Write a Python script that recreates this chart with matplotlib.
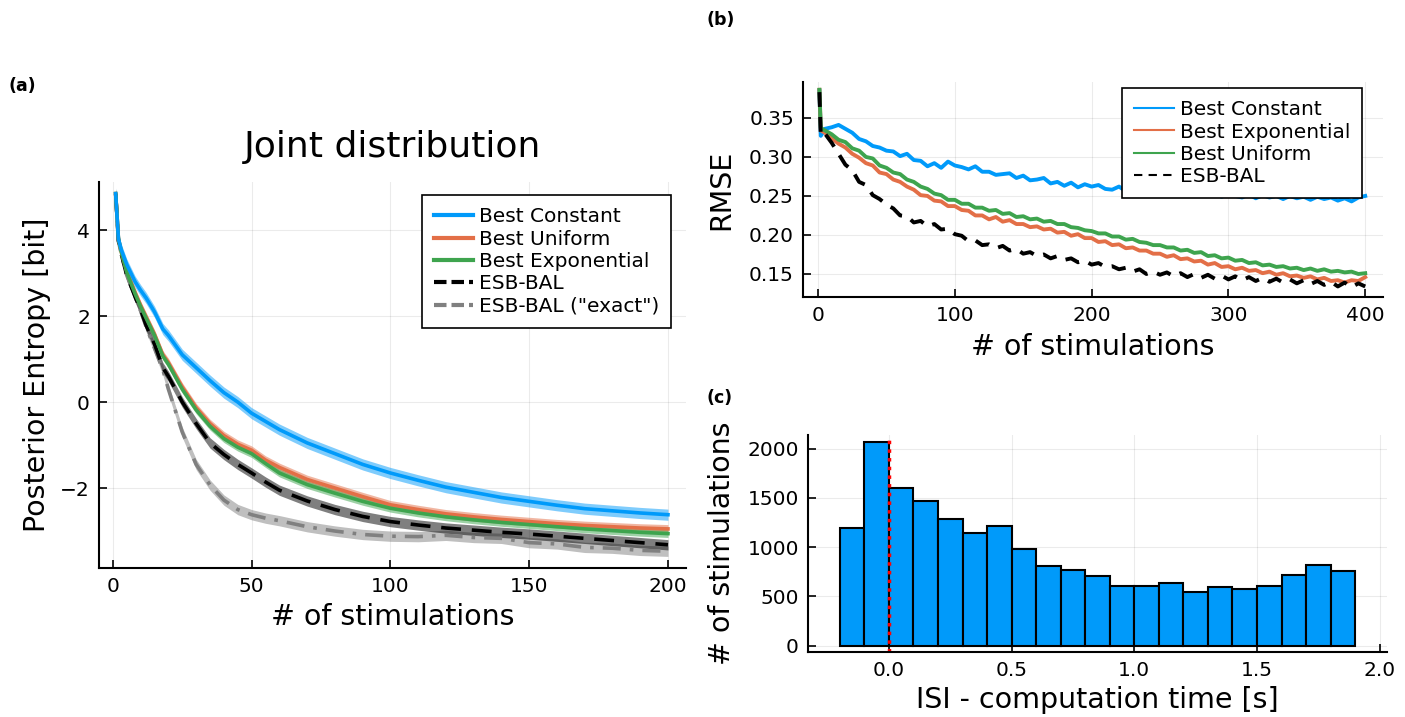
import numpy as np
import matplotlib
matplotlib.use("Agg")
import matplotlib.pyplot as plt
from matplotlib.lines import Line2D

# ---------------- Panel (a): posterior entropy ----------------
a_steps = [1, 2, 3, 5, 8, 10, 12, 15, 18, 20, 25, 30, 35, 40, 45, 50, 55, 60,
           70, 80, 90, 100, 110, 120, 130, 140, 150, 160, 170, 180, 190, 200]
a_constant = [4.85, 3.80, 3.55, 3.20, 2.80, 2.60, 2.42, 2.10, 1.70, 1.55, 1.10, 0.80,
              0.50, 0.22, 0.00, -0.26, -0.45, -0.64, -0.95, -1.20, -1.45, -1.65,
              -1.82, -1.98, -2.10, -2.22, -2.31, -2.40, -2.48, -2.53, -2.58, -2.62]
a_uniform = [4.85, 3.80, 3.50, 3.05, 2.55, 2.25, 1.98, 1.58, 1.10, 0.92, 0.35, -0.13,
             -0.50, -0.78, -0.98, -1.12, -1.35, -1.52, -1.80, -2.00, -2.20, -2.39,
             -2.50, -2.60, -2.67, -2.73, -2.78, -2.83, -2.87, -2.90, -2.93, -2.95]
a_exponential = [4.85, 3.80, 3.50, 3.02, 2.52, 2.22, 1.95, 1.55, 1.07, 0.88, 0.30, -0.18,
                 -0.56, -0.85, -1.05, -1.20, -1.43, -1.65, -1.92, -2.12, -2.31, -2.47,
                 -2.58, -2.67, -2.74, -2.80, -2.85, -2.90, -2.95, -2.99, -3.03, -3.06]
a_esbbal = [4.85, 3.75, 3.45, 2.95, 2.45, 2.15, 1.78, 1.35, 0.80, 0.60, 0.00, -0.50,
            -0.95, -1.22, -1.45, -1.65, -1.86, -2.05, -2.30, -2.50, -2.66, -2.78,
            -2.86, -2.93, -2.98, -3.03, -3.07, -3.12, -3.17, -3.22, -3.27, -3.32]
a_exact = [4.85, 3.75, 3.45, 2.95, 2.45, 2.12, 1.75, 1.25, 0.75, 0.30, -0.70, -1.45,
           -1.93, -2.28, -2.50, -2.62, -2.70, -2.76, -2.90, -3.00, -3.08, -3.12,
           -3.13, -3.10, -3.15, -3.17, -3.27, -3.30, -3.38, -3.40, -3.45, -3.47]
a_band = [0.13, 0.10, 0.09, 0.12, 0.12]
a_labels = ["Best Constant", "Best Uniform", "Best Exponential", "ESB-BAL", 'ESB-BAL ("exact")']

# ---------------- Panel (b): RMSE ----------------
b_steps = [1, 2] + list(range(5, 401, 5))
b_constant = [0.385, 0.327,
    0.336, 0.338, 0.341, 0.336, 0.331, 0.323, 0.320, 0.314, 0.312, 0.308,
    0.307, 0.301, 0.304, 0.296, 0.295, 0.288, 0.292, 0.286, 0.294, 0.289,
    0.287, 0.284, 0.288, 0.281, 0.281, 0.277, 0.278, 0.279, 0.273, 0.276,
    0.270, 0.271, 0.273, 0.266, 0.268, 0.263, 0.267, 0.261, 0.265, 0.262,
    0.264, 0.259, 0.258, 0.262, 0.256, 0.259, 0.255, 0.258, 0.254, 0.256,
    0.253, 0.256, 0.252, 0.254, 0.251, 0.254, 0.250, 0.253, 0.249, 0.252,
    0.250, 0.248, 0.252, 0.247, 0.251, 0.248, 0.250, 0.246, 0.250, 0.247,
    0.249, 0.245, 0.249, 0.246, 0.248, 0.244, 0.247, 0.243, 0.248, 0.250]
b_exponential = [0.386, 0.334,
    0.331, 0.324, 0.317, 0.312, 0.304, 0.299, 0.292, 0.289, 0.280, 0.278,
    0.271, 0.268, 0.262, 0.258, 0.251, 0.250, 0.244, 0.243, 0.237, 0.237,
    0.232, 0.231, 0.225, 0.225, 0.220, 0.223, 0.217, 0.219, 0.214, 0.214,
    0.210, 0.211, 0.207, 0.208, 0.203, 0.204, 0.199, 0.201, 0.196, 0.196,
    0.191, 0.192, 0.187, 0.188, 0.183, 0.184, 0.180, 0.180, 0.176, 0.176,
    0.172, 0.174, 0.169, 0.170, 0.166, 0.167, 0.162, 0.164, 0.159, 0.160,
    0.156, 0.158, 0.154, 0.155, 0.151, 0.153, 0.149, 0.151, 0.147, 0.148,
    0.145, 0.147, 0.143, 0.145, 0.141, 0.142, 0.139, 0.142, 0.141, 0.146]
b_uniform = [0.386, 0.337,
    0.334, 0.329, 0.322, 0.319, 0.311, 0.308, 0.300, 0.298, 0.289, 0.286,
    0.280, 0.278, 0.271, 0.268, 0.262, 0.259, 0.253, 0.251, 0.245, 0.245,
    0.240, 0.240, 0.235, 0.235, 0.231, 0.232, 0.227, 0.228, 0.223, 0.224,
    0.220, 0.221, 0.217, 0.218, 0.214, 0.214, 0.210, 0.209, 0.206, 0.205,
    0.202, 0.202, 0.198, 0.198, 0.194, 0.195, 0.191, 0.190, 0.187, 0.187,
    0.184, 0.184, 0.180, 0.181, 0.177, 0.178, 0.173, 0.174, 0.170, 0.171,
    0.167, 0.168, 0.164, 0.165, 0.161, 0.162, 0.159, 0.160, 0.157, 0.158,
    0.155, 0.157, 0.154, 0.156, 0.153, 0.154, 0.152, 0.153, 0.150, 0.151]
b_esbbal = [0.383, 0.327,
    0.330, 0.318, 0.304, 0.290, 0.283, 0.268, 0.264, 0.251, 0.246, 0.239,
    0.234, 0.225, 0.224, 0.216, 0.218, 0.211, 0.214, 0.207, 0.208, 0.201,
    0.199, 0.192, 0.193, 0.187, 0.188, 0.183, 0.186, 0.180, 0.182, 0.176,
    0.178, 0.173, 0.175, 0.170, 0.173, 0.168, 0.170, 0.165, 0.167, 0.162,
    0.164, 0.159, 0.160, 0.156, 0.158, 0.153, 0.156, 0.150, 0.153, 0.149,
    0.152, 0.147, 0.151, 0.146, 0.150, 0.145, 0.149, 0.144, 0.148, 0.143,
    0.147, 0.142, 0.146, 0.141, 0.145, 0.140, 0.144, 0.139, 0.143, 0.138,
    0.142, 0.137, 0.141, 0.136, 0.140, 0.134, 0.139, 0.133, 0.138, 0.134]
b_labels = ["Best Constant", "Best Exponential", "Best Uniform", "ESB-BAL"]

# ---------------- Panel (c): histogram ----------------
hist_edges = [-0.2, -0.1, 0.0, 0.1, 0.2, 0.3, 0.4, 0.5, 0.6, 0.7, 0.8, 0.9, 1.0,
              1.1, 1.2, 1.3, 1.4, 1.5, 1.6, 1.7, 1.8, 1.9]
hist_counts = [1190, 2070, 1600, 1465, 1290, 1145, 1215, 985, 810, 770, 710, 610,
               610, 640, 545, 600, 580, 605, 715, 815, 760]
threshold = 0.0

BLUE, ORANGE, GREEN = "#009AFA", "#E36F47", "#3EA44E"
TICK_FS, LABEL_FS, LEG_FS = 14.5, 20.5, 14.5

plt.rcParams['font.family'] = ['DejaVu Sans']
W, H = 1405, 717
fig = plt.figure(figsize=(W / 100, H / 100), dpi=100)

def px_axes(l, t, r, b):
    return fig.add_axes([l / W, 1 - b / H, (r - l) / W, (b - t) / H])

def style(ax):
    for s in ("top", "right"):
        ax.spines[s].set_visible(False)
    for s in ("left", "bottom"):
        ax.spines[s].set_linewidth(1.5)
    ax.tick_params(direction="in", length=6, width=1.2, labelsize=TICK_FS, pad=6.5)
    ax.grid(True, color="#000000", alpha=0.08, lw=0.8)
    ax.set_axisbelow(True)

def labels(ax, xl, yl, xy, yx):
    ax.set_xlabel(xl, fontsize=LABEL_FS)
    ax.set_ylabel(yl, fontsize=LABEL_FS)
    ax.xaxis.set_label_coords(0.5, xy)
    ax.yaxis.set_label_coords(yx, 0.5)
    ax.xaxis.label.set_va("center")
    ax.yaxis.label.set_va("center")

def legend(ax, handles, texts, anchor):
    lg = ax.legend(handles, texts, loc="upper right", bbox_to_anchor=anchor,
                   fontsize=LEG_FS, frameon=True, fancybox=False, edgecolor="black",
                   handlelength=1.95, handletextpad=0.3, borderpad=0.6,
                   labelspacing=0.17, borderaxespad=0, framealpha=1)
    lg.get_frame().set_linewidth(1.2)
    return lg

# ---- (a)
axa = px_axes(99, 182, 686, 568)
style(axa)
a_series = [a_constant, a_uniform, a_exponential, a_esbbal, a_exact]
a_colors = [BLUE, ORANGE, GREEN, "black", "#808080"]
a_styles = ["-", "-", "-", (0, (5.5, 3)), (0, (5, 2.5, 1, 2.5))]
order = [4, 3, 1, 2, 0]
for i in order:
    y = np.array(a_series[i])
    axa.fill_between(a_steps, y - a_band[i], y + a_band[i], color=a_colors[i],
                     alpha=0.5, lw=0)
for i in order:
    axa.plot(a_steps, a_series[i], color=a_colors[i], lw=2.6, ls=a_styles[i])
axa.set_xlim(-5, 206.5)
axa.set_ylim(-3.86, 5.12)
axa.set_xticks([0, 50, 100, 150, 200])
axa.set_yticks([-2, 0, 2, 4])
labels(axa, "# of stimulations", "Posterior Entropy [bit]", -0.127, -0.1056)
axa.set_title("Joint distribution", fontsize=26, y=1.0648, va="baseline", pad=0)
ha = [Line2D([], [], color=a_colors[i], lw=3, ls="-" if i < 3 else (0, (3, 1.2)))
      for i in range(5)]
legend(axa, ha, a_labels, (0.975, 0.966))

# ---- (b)
axb = px_axes(803, 82, 1383, 297)
style(axb)
b_series = [b_constant, b_exponential, b_uniform, b_esbbal]
b_colors = [BLUE, ORANGE, GREEN, "black"]
for i in range(4):
    axb.plot(b_steps, b_series[i], color=b_colors[i], lw=2.8,
             ls="-" if i < 3 else (0, (3.8, 2.6)))
axb.set_xlim(-11, 413)
axb.set_ylim(0.1205, 0.396)
axb.set_xticks([0, 100, 200, 300, 400])
axb.set_yticks([0.15, 0.20, 0.25, 0.30, 0.35])
axb.set_yticklabels(["0.15", "0.20", "0.25", "0.30", "0.35"])
labels(axb, "# of stimulations", "RMSE", -0.2326, -0.141)
hb = [Line2D([], [], color=b_colors[i], lw=1.5, ls="-" if i < 3 else (0, (4, 3)))
      for i in range(4)]
legend(axb, hb, b_labels, (0.964, 0.972))

# ---- (c)
axc = px_axes(808, 435, 1387, 652)
style(axc)
axc.bar(hist_edges[:-1], hist_counts, width=np.diff(hist_edges), align="edge",
        color=BLUE, edgecolor="black", lw=1.5)
axc.axvline(threshold, color="red", ls=(0, (1, 1.5)), lw=2.5)
axc.set_xlim(-0.33, 2.03)
axc.set_ylim(-65, 2140)
axc.set_xticks([0.0, 0.5, 1.0, 1.5, 2.0])
axc.set_xticklabels(["0.0", "0.5", "1.0", "1.5", "2.0"])
axc.set_yticks([0, 500, 1000, 1500, 2000])
labels(axc, "ISI - computation time [s]", "# of stimulations", -0.221, -0.1485)

# panel labels
fig.text(8 / W, 1 - 86 / H, "(a)", fontsize=12.5, fontweight="bold", va="center")
fig.text(706 / W, 1 - 20 / H, "(b)", fontsize=12.5, fontweight="bold", va="center")
fig.text(706 / W, 1 - 398 / H, "(c)", fontsize=12.5, fontweight="bold", va="center")

fig.savefig("out.png", dpi=100)
